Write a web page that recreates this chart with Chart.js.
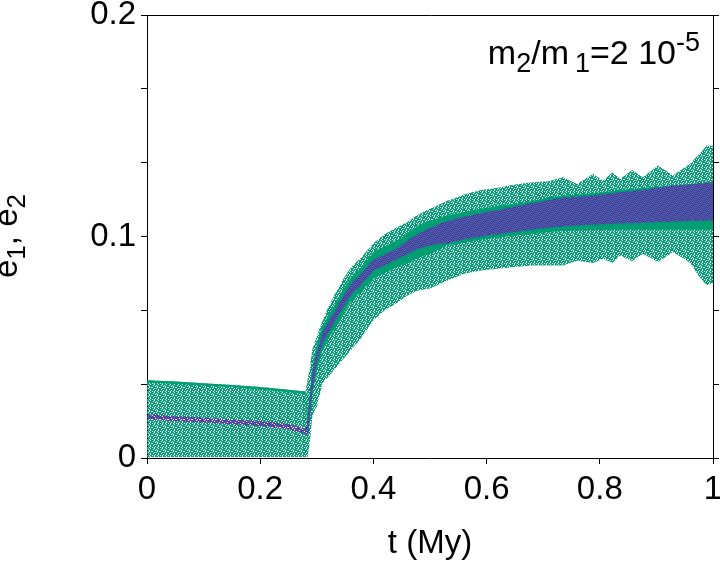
<!DOCTYPE html>
<html><head><meta charset="utf-8">
<script src="https://cdn.jsdelivr.net/npm/chart.js@4.4.1/dist/chart.umd.min.js"></script>
<style>html,body{margin:0;padding:0;background:#fff;}</style>
</head><body>
<canvas id="c" width="720" height="564"></canvas>
<script>
// time (My)
const T = [0, 0.05, 0.1, 0.15, 0.2, 0.25, 0.28,
  0.284, 0.288, 0.292, 0.296, 0.30,
  0.31, 0.32, 0.33, 0.345, 0.36,
  0.38, 0.40, 0.42, 0.44, 0.46, 0.48, 0.50,
  0.53, 0.56, 0.59, 0.62, 0.65, 0.68, 0.71,
  0.735, 0.76, 0.788, 0.806, 0.822, 0.836, 0.857, 0.876, 0.903, 0.929, 0.959,
  0.975, 0.989, 1.0];
// e2 (green): outer envelope of the scattered points
const E2_LOW = [0.0005, 0.0005, 0.0005, 0.0005, 0.0005, 0.0005, 0.0005,
  0.0005, 0.008, 0.0186, 0.0216, 0.0231,
  0.0338, 0.0366, 0.0396, 0.0441, 0.0486,
  0.0546, 0.0622, 0.0667, 0.0697, 0.0734, 0.0757, 0.0765,
  0.080, 0.0832, 0.0847, 0.0854, 0.0862, 0.0869, 0.0869,
  0.0869, 0.089, 0.088, 0.090, 0.088, 0.0914, 0.0888, 0.0922, 0.0885, 0.093, 0.0883,
  0.082, 0.078, 0.079];
const E2_HIGH = [0.0351, 0.0345, 0.0338, 0.0330, 0.0320, 0.0308, 0.0300,
  0.036, 0.041, 0.049, 0.052, 0.055,
  0.062, 0.068, 0.073, 0.080, 0.086,
  0.091, 0.097, 0.101, 0.104, 0.1065, 0.110, 0.1125,
  0.116, 0.119, 0.121, 0.122, 0.1235, 0.1245, 0.125,
  0.1267, 0.1237, 0.1282, 0.1252, 0.129, 0.126, 0.130, 0.1267, 0.132, 0.1275, 0.1327,
  0.137, 0.141, 0.141];
// e2 (green): dense core of the points
const E2_CORE_LOW = [0.0340, 0.0334, 0.0327, 0.0319, 0.0309, 0.0297, 0.0289,
  0.008, 0.017, 0.028, 0.034, 0.039,
  0.0485, 0.0535, 0.0575, 0.0645, 0.0705,
  0.0755, 0.081, 0.0835, 0.086, 0.088, 0.0905, 0.092,
  0.096, 0.0972, 0.0985, 0.0995, 0.1005, 0.101, 0.102,
  0.1025, 0.1027, 0.1028, 0.1029, 0.103, 0.103, 0.103, 0.103, 0.103, 0.103, 0.103,
  0.103, 0.103, 0.103];
const E2_CORE_HIGH = [0.0351, 0.0345, 0.0338, 0.0330, 0.0320, 0.0308, 0.0300,
  0.020, 0.031, 0.040, 0.046, 0.051,
  0.0595, 0.0645, 0.0685, 0.0755, 0.0815,
  0.0865, 0.093, 0.0955, 0.098, 0.1015, 0.105, 0.107,
  0.1095, 0.111, 0.1125, 0.1138, 0.1148, 0.116, 0.1177,
  0.1185, 0.119, 0.1195, 0.120, 0.1205, 0.121, 0.1215, 0.122, 0.1225, 0.123, 0.1237,
  0.124, 0.1245, 0.1245];
// e1 (magenta) band
const E1_LOW = [0.0175, 0.0167, 0.0160, 0.0152, 0.0145, 0.0131, 0.0109,
  0.0095, 0.019, 0.030, 0.036, 0.043,
  0.0515, 0.0565, 0.0605, 0.0675, 0.0735,
  0.0785, 0.0845, 0.087, 0.0895, 0.092, 0.0945, 0.096,
  0.097, 0.0985, 0.100, 0.101, 0.102, 0.103, 0.104,
  0.1045, 0.105, 0.1053, 0.1055, 0.1057, 0.106, 0.106, 0.1062, 0.1065, 0.1067, 0.107,
  0.107, 0.1072, 0.1072];
const E1_HIGH = [0.0197, 0.0189, 0.0182, 0.0174, 0.0167, 0.0153, 0.0131,
  0.018, 0.029, 0.038, 0.044, 0.047,
  0.0565, 0.0615, 0.0655, 0.0725, 0.0785,
  0.0835, 0.0895, 0.092, 0.0945, 0.098, 0.1015, 0.104,
  0.107, 0.109, 0.1105, 0.112, 0.1135, 0.115, 0.1165,
  0.1175, 0.118, 0.1185, 0.119, 0.1195, 0.120, 0.1205, 0.121, 0.122, 0.123, 0.1235,
  0.124, 0.1243, 0.1245];

const X_TICK_VALUES = [0, 0.2, 0.4, 0.6, 0.8, 1];
const X_TICK_LABELS = ['0', '0.2', '0.4', '0.6', '0.8', '1'];
const Y_TICK_LABELS = ['0', '', '', '0.1', '', '', '0.2'];

const FONT = "'Liberation Sans', Arial, Helvetica, sans-serif";
const GREEN = 'rgb(0,158,115)';
const MAGENTA = 'rgb(148,0,211)';

// fixed texture tiles (style only): '1' = coloured pixel
const SPARSE_TILE = ['11011101', '10110111', '11101011', '01111010', '11010111', '10111101', '11101101', '01011011'];
const MIX_TILE = ['10010110', '01101001', '11000101', '00111010', '10100011', '01011100', '10001011', '01110100'];
function makePattern(tile, color) {
  const c = document.createElement('canvas');
  c.width = tile[0].length; c.height = tile.length;
  const g = c.getContext('2d');
  g.fillStyle = color;
  tile.forEach((row, y) => { for (let x = 0; x < row.length; x++) if (row[x] === '1') g.fillRect(x, y, 1, 1); });
  return document.getElementById('c').getContext('2d').createPattern(c, 'repeat');
}
const GREEN_SPARSE = makePattern(SPARSE_TILE, GREEN);
const MAGENTA_MIX = makePattern(MIX_TILE, MAGENTA);

function pts(arr) { return T.map((t, i) => ({x: t, y: arr[i]})); }
function band(arr, fill, color, order) {
  return {data: pts(arr), fill: fill, backgroundColor: color, borderColor: 'rgba(0,0,0,0)',
    borderWidth: 0, pointRadius: 0, tension: 0, order: order};
}

function zeroPad(s) { s.paddingLeft = 0; s.paddingRight = 0; s.paddingTop = 0; s.paddingBottom = 0; }

const textPlugin = {
  id: 'texts',
  afterDraw(chart) {
    const ctx = chart.ctx;
    function runs(parts) {
      let w = 0;
      parts.forEach(p => { ctx.font = p[1] + 'px ' + FONT; w += (p[3] || 0) + ctx.measureText(p[0]).width; });
      return w;
    }
    function drawRuns(parts, x0, y0) {
      let x = x0;
      parts.forEach(p => {
        ctx.font = p[1] + 'px ' + FONT;
        x += (p[3] || 0);
        ctx.fillText(p[0], x, y0 + p[2]);
        x += ctx.measureText(p[0]).width;
      });
    }
    ctx.save();
    ctx.fillStyle = '#000';
    ctx.textBaseline = 'alphabetic';
    ctx.textAlign = 'left';
    // annotation
    const ann = [['m', 34, 0], ['2', 27, 8], ['/m', 34, 0], ['1', 27, 8, 6], ['=2 10', 34, 0], ['-5', 27, -13]];
    const wa = runs(ann);
    drawRuns(ann, 700 - wa, 64);
    // y axis title (rotated)
    const yt = [['e', 33, 0], ['1', 26, 8], [', e', 33, 0], ['2', 26, 8]];
    const wy = runs(yt);
    ctx.translate(17, 236);
    ctx.rotate(-Math.PI / 2);
    drawRuns(yt, -wy / 2, 0);
    ctx.restore();
  }
};

new Chart(document.getElementById('c'), {
  type: 'line',
  data: {
    datasets: [
      band(E2_LOW, false, GREEN_SPARSE, 3),
      band(E2_HIGH, '-1', GREEN_SPARSE, 3),
      band(E2_CORE_LOW, false, GREEN, 2),
      band(E2_CORE_HIGH, '-1', GREEN, 2),
      band(E1_LOW, false, MAGENTA_MIX, 1),
      band(E1_HIGH, '-1', MAGENTA_MIX, 1)
    ]
  },
  options: {
    responsive: false,
    devicePixelRatio: 1,
    animation: false,
    layout: {padding: {top: 15, left: 0, right: 0, bottom: 0}},
    plugins: {legend: {display: false}, tooltip: {enabled: false}},
    scales: {
      x: {
        type: 'linear', position: 'bottom', min: 0, max: 1,
        ticks: {stepSize: 0.2, autoSkip: false, maxRotation: 0, minRotation: 0, padding: 6, color: '#000',
          font: {family: FONT, size: 33},
          callback: (v) => { const i = X_TICK_VALUES.findIndex(t => Math.abs(t - v) < 1e-6); return i >= 0 ? X_TICK_LABELS[i] : ''; }},
        grid: {drawOnChartArea: false, drawTicks: true, tickLength: 6, color: '#000', lineWidth: 1},
        border: {display: true, color: '#000', width: 1},
        title: {display: true, text: 't (My)', color: '#000', font: {family: FONT, size: 33}, padding: {top: 0, bottom: 0}},
        afterFit: (s) => { s.height = 106; zeroPad(s); }
      },
      x2: {
        type: 'linear', position: 'top', min: 0, max: 1,
        ticks: {display: false},
        grid: {drawOnChartArea: false, drawTicks: false},
        border: {display: true, color: '#000', width: 1},
        afterFit: (s) => { s.height = 0; zeroPad(s); }
      },
      y: {
        type: 'linear', position: 'left', min: 0, max: 0.2,
        ticks: {stepSize: 0.2 / 6, autoSkip: false, padding: 5, color: '#000',
          font: {family: FONT, size: 33},
          callback: (v, i) => Y_TICK_LABELS[i] !== undefined ? Y_TICK_LABELS[i] : ''},
        grid: {drawOnChartArea: false, drawTicks: true, tickLength: 6, color: '#000', lineWidth: 1},
        border: {display: true, color: '#000', width: 1},
        afterFit: (s) => { s.width = 147; zeroPad(s); }
      },
      y2: {
        type: 'linear', position: 'right', min: 0, max: 0.2,
        ticks: {stepSize: 0.2 / 6, autoSkip: false, display: false},
        grid: {drawOnChartArea: false, drawTicks: true, tickLength: 6, color: '#000', lineWidth: 1},
        border: {display: true, color: '#000', width: 1},
        afterFit: (s) => { s.width = 7; zeroPad(s); }
      }
    }
  },
  plugins: [textPlugin]
});
</script>
</body></html>
